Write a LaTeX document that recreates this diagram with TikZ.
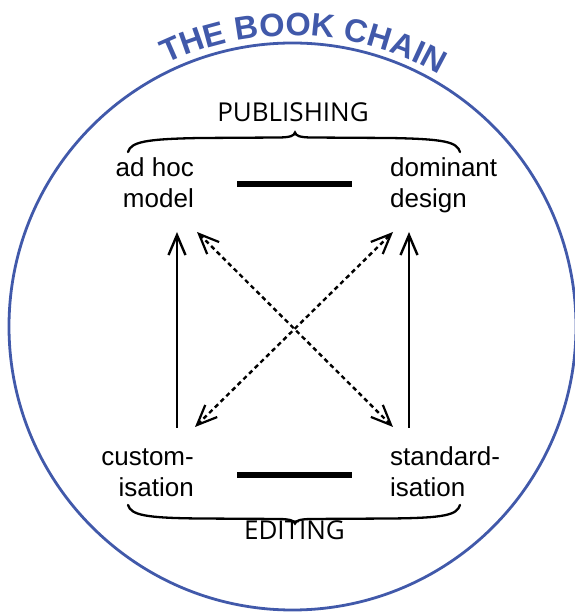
\documentclass[tikz,border=0pt]{standalone}
\usepackage{fontspec}
\setmainfont{Liberation Sans}
\newfontfamily\labelfont{Open Sans}
\newfontfamily\titlefontfam{Liberation Sans}
\usetikzlibrary{arrows.meta,decorations.text}
\definecolor{bookblue}{RGB}{65,89,170}
\newcommand{\titlefmt}{\titlefontfam\bfseries\fontsize{32.5}{32.5}\selectfont\color{bookblue}}
\tikzset{
  stage/.style={inner sep=0pt, font=\fontsize{26}{31}\selectfont},
  stageL/.style={stage, align=right, anchor=north east},
  stageR/.style={stage, align=left, anchor=north west},
  grouplabel/.style={inner sep=0pt, anchor=base, font=\labelfont\fontsize{26}{26}\selectfont},
  bar/.style={line width=5.5pt},
  bracepath/.style={line width=2.3pt, line cap=round},
  solidarrow/.style={line width=2.6pt, -{Straight Barb[length=20pt,width=17pt,line width=2.4pt]}},
  dashedarrow/.style={line width=2.4pt, dash pattern=on 4.5pt off 3.5pt,
     {Straight Barb[length=20pt,width=17pt,line width=2.2pt]}-{Straight Barb[length=20pt,width=17pt,line width=2.2pt]}},
}
\begin{document}
\begin{tikzpicture}[x=1pt,y=1pt]
\useasboundingbox (0,0) rectangle (574,613);
\coordinate (ctr) at (292.5,286.5);
\draw[bookblue, line width=2.8pt] (ctr) circle[radius=283.5];
\path[decorate, decoration={text along path, text align=center,
  text={|\titlefmt|THE BOOK CHAIN}}]
  (ctr) ++(118:291) arc[start angle=118, end angle=57.4, radius=291];

% stage nodes
\node[stageL] (adhoc) at (194,456) {\rule{0pt}{19pt}ad hoc\\model};
\node[stageR] (dominant) at (390,456) {\rule{0pt}{19pt}dominant\\design};
\node[stageL] (custom) at (194,167) {\rule{0pt}{19pt}custom-\\isation};
\node[stageR] (standard) at (390,167) {\rule{0pt}{19pt}standard-\\isation};

% group labels
\node[grouplabel] (publishing) at (293,491) {PUBLISHING};
\node[grouplabel] (editing) at (294.5,73) {EDITING};

% bars
\coordinate (tbarL) at (237,429);
\coordinate (tbarR) at (352,429);
\coordinate (bbarL) at (237,138);
\coordinate (bbarR) at (352,138);
\draw[bar] (tbarL) -- (tbarR);
\draw[bar] (bbarL) -- (bbarR);

% braces
\draw[bracepath] (128,461) .. controls (131,471) and (145,474) .. (200,475)
  -- (280,475.5) .. controls (290,475.8) and (294,477) .. (295,480.5)
  .. controls (296,477) and (300,475.8) .. (310,475.5)
  -- (390,475) .. controls (445,474) and (457,471) .. (460,461);
\draw[bracepath] (128,108) .. controls (131,98) and (145,95) .. (200,94.5)
  -- (280,94) .. controls (290,93.7) and (294,92.5) .. (295,89.5)
  .. controls (296,92.5) and (300,93.7) .. (310,94)
  -- (390,94.5) .. controls (445,95) and (457,98) .. (460,108);

% arrow end points
\coordinate (cTop) at (177,185);
\coordinate (aBot) at (177,381);
\coordinate (sTop) at (409,185);
\coordinate (dBot) at (409,381);
\coordinate (cDiag) at (195,186);
\coordinate (dDiag) at (393,381);
\coordinate (aDiag) at (197,381);
\coordinate (sDiag) at (393,186);

\draw[solidarrow] (cTop) -- (aBot);
\draw[solidarrow] (sTop) -- (dBot);
\draw[dashedarrow] (cDiag) -- (dDiag);
\draw[dashedarrow] (aDiag) -- (sDiag);
\end{tikzpicture}
\end{document}
